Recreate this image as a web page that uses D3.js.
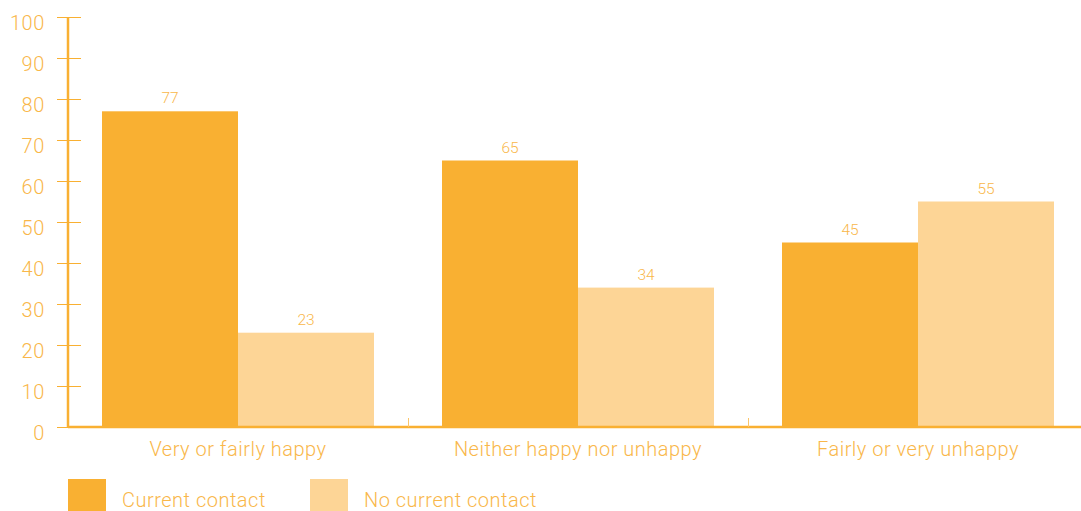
<!DOCTYPE html>
<html><head><meta charset="utf-8">
<script src="https://cdn.jsdelivr.net/npm/d3@7"></script>
<style>
body{margin:0;background:#fff;}
svg{display:block;font-family:Roboto, "Liberation Sans", sans-serif;font-weight:300;}
</style></head>
<body><svg id="c" width="1081" height="511"></svg>
<script>
const categories = ["Very or fairly happy","Neither happy nor unhappy","Fairly or very unhappy"];
const seriesNames = ["Current contact","No current contact"];
const currentContact = [77,65,45];
const noCurrentContact = [23,34,55];
const yTicks = [0,10,20,30,40,50,60,70,80,90,100];
const colors = ["#F9B032","#FDD596"];
const textColor = "#F9B74A";

const svg = d3.select("#c");
const y = d3.scaleLinear().domain([0,100]).range([427,17]);
const x0 = d3.scaleBand().domain(categories).range([68,1088]);
const x1 = d3.scaleBand().domain(seriesNames).range([0,x0.bandwidth()]).paddingOuter(0.25).paddingInner(0);

// bars
const data = categories.map((c,i)=>({cat:c, vals:[currentContact[i],noCurrentContact[i]]}));
const g = svg.selectAll("g.grp").data(data).enter().append("g").attr("transform",d=>`translate(${x0(d.cat)},0)`);
g.selectAll("rect").data(d=>d.vals.map((v,j)=>({v,s:seriesNames[j],j}))).enter().append("rect")
  .attr("x",d=>x1(d.s)).attr("width",x1.bandwidth())
  .attr("y",d=>y(d.v)).attr("height",d=>y(0)-y(d.v)).attr("fill",d=>colors[d.j]);
g.selectAll("text.val").data(d=>d.vals.map((v,j)=>({v,s:seriesNames[j]}))).enter().append("text")
  .attr("x",d=>x1(d.s)+x1.bandwidth()/2).attr("y",d=>y(d.v)-8)
  .attr("text-anchor","middle").attr("font-size",15.5).attr("fill",textColor).text(d=>d.v);

// y axis
const yAxis = svg.append("g");
yAxis.selectAll("line.t").data(yTicks).enter().append("line")
  .attr("x1",57).attr("x2",81).attr("y1",d=>y(d)+0.5).attr("y2",d=>y(d)+0.5)
  .attr("stroke","#F9B032").attr("stroke-width",1);
yAxis.selectAll("text").data(yTicks).enter().append("text")
  .attr("x",45).attr("y",d=>y(d)+13).attr("text-anchor","end")
  .attr("font-size",20).attr("letter-spacing",0.6).attr("fill",textColor).text(d=>d);
svg.append("line").attr("x1",68).attr("x2",68).attr("y1",17).attr("y2",428)
  .attr("stroke","#F9B032").attr("stroke-width",2.5);

// x axis
svg.append("line").attr("x1",68).attr("x2",1081).attr("y1",427).attr("y2",427)
  .attr("stroke","#F9B032").attr("stroke-width",2.5);
svg.selectAll("line.div").data(categories.slice(1)).enter().append("line")
  .attr("x1",d=>x0(d)+0.5).attr("x2",d=>x0(d)+0.5).attr("y1",418).attr("y2",427)
  .attr("stroke","#FBC56A").attr("stroke-width",1);
svg.selectAll("text.cat").data(categories).enter().append("text")
  .attr("x",d=>x0(d)+x0.bandwidth()/2).attr("y",456).attr("text-anchor","middle")
  .attr("font-size",20).attr("letter-spacing",0.5).attr("fill",textColor).text(d=>d);

// legend
const leg = svg.selectAll("g.leg").data(seriesNames).enter().append("g")
  .attr("transform",(d,i)=>`translate(${68+i*242},479)`);
leg.append("rect").attr("width",38).attr("height",38).attr("fill",(d,i)=>colors[i]);
leg.append("text").attr("x",54).attr("y",28).attr("font-size",20).attr("letter-spacing",0.5).attr("fill",textColor).text(d=>d);
</script></body></html>
